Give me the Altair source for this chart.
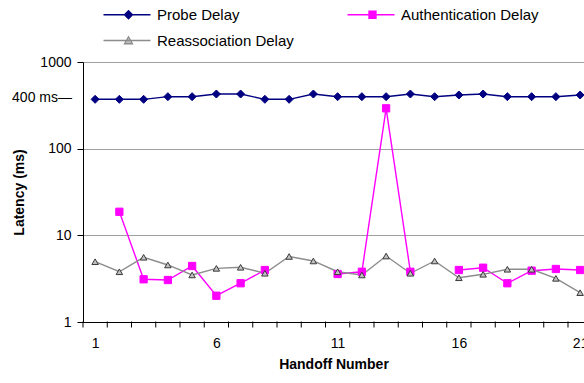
import altair as alt
import pandas as pd

# Handoff latency measurements (ms), one value per handoff; None = not recorded
handoffs = list(range(1, 22))
probe_delay = [371, 371, 371, 398, 398, 427, 427, 371, 371, 427, 398,
               398, 398, 427, 398, 416, 427, 398, 398, 398, 416]
auth_delay = [None, 18.7, 3.11, 3.05, 4.43, 2.01, 2.80, 3.98, None, None, 3.58,
              3.80, 292, 3.80, None, 3.98, 4.23, 2.80, 3.91, 4.09, 3.98]
reassoc_delay = [4.96, 3.80, 5.58, 4.55, 3.49, 4.16, 4.28, 3.65, 5.70, 5.06, 3.80,
                 3.49, 5.77, 3.65, 5.06, 3.24, 3.55, 4.06, 4.06, 3.19, 2.18]
series_names = ["Probe Delay", "Authentication Delay", "Reassociation Delay"]
x_tick_labels = [1, 6, 11, 16, 21]
annotation_value = [400]
annotation_text = ["400 ms\u2014"]

FONT = "Liberation Sans"
line_colors = ["#000080", "#FF00FF", "#8c8c8c"]
marker_fill = ["#000080", "#FF00FF", "#c0c0c0"]
marker_stroke = ["#000080", "#FF00FF", "#3a3a3a"]
legend_stroke = ["#000080", "#FF00FF", "#8c8c8c"]

# Legend swatches: a short line with the series marker in the middle
legend_paths = [
    "M-9,0H0.4M-4,-0.8L-3.2,0L-4,0.8L-4.8,0Z",
    "M-9,0H0.4M-4.7,-0.7H-3.3V0.7H-4.7Z",
    "M-9,0H0.4M-4,-0.75L-3.2,0.65H-4.8Z",
]

# Long table; a new segment starts after every gap so lines break there
rows = []
for name, values in zip(series_names, [probe_delay, auth_delay, reassoc_delay]):
    seg = 0
    for h, v in zip(handoffs, values):
        if v is None:
            seg += 1
            continue
        rows.append({"handoff": h, "series": name, "value": v, "segment": f"{name}-{seg}"})
df = pd.DataFrame(rows)
ann = pd.DataFrame({"value": annotation_value, "label": annotation_text})
# Category boundaries (tick marks sit between handoffs)
bounds = pd.DataFrame({"pos": [h - 0.5 for h in handoffs], "base": 1.0})

x_scale = alt.Scale(domain=[0.5, 21.16], nice=False, zero=False)
y_scale = alt.Scale(type="log", domain=[1, 1000], nice=False)

# Labels are anchored on the left boundary of their category and shifted
# half a category to the right, so they sit under the category centre.
x_axis = alt.Axis(
    values=[v - 0.5 for v in x_tick_labels],
    labelExpr="format(datum.value + 0.5, 'd')",
    labelOffset=12.13,
    labelFlush=False,
    labelOverlap=False,
    labelBound=False,
    labelFont=FONT,
    labelFontSize=14,
    labelColor="#000000",
    labelPadding=14,
    ticks=False,
    grid=False,
    domainColor="#000000",
    title="Handoff Number",
    titleFont=FONT,
    titleFontSize=14,
    titleFontWeight="bold",
    titleColor="#000000",
    titleBaseline="alphabetic",
    titleY=46,
)
x_enc = alt.X("handoff:Q", scale=x_scale, axis=x_axis)
y_enc = alt.Y(
    "value:Q",
    scale=y_scale,
    axis=alt.Axis(
        values=[1, 10, 100, 1000],
        format="d",
        grid=True,
        gridColor="#a0a0a0",
        tickSize=6,
        tickColor="#000000",
        domainColor="#000000",
        labelFont=FONT,
        labelFontSize=14,
        labelColor="#000000",
        labelPadding=6,
        title="Latency (ms)",
        titleFont=FONT,
        titleFontSize=14,
        titleFontWeight="bold",
        titleColor="#000000",
        titleX=-64,
        titleY=130,
        titleAlign="center",
        titleBaseline="middle",
        titleAngle=270,
    ),
)

lines = alt.Chart(df).mark_line(strokeWidth=1.4).encode(
    x=x_enc,
    y=y_enc,
    detail="segment:N",
    color=alt.Color(
        "series:N",
        scale=alt.Scale(domain=series_names, range=line_colors),
        legend=None,
    ),
)

points = alt.Chart(df).mark_point(filled=True, strokeWidth=1, opacity=1).encode(
    x="handoff:Q",
    y="value:Q",
    shape=alt.Shape("series:N", scale=alt.Scale(domain=series_names, range=["diamond", "square", "triangle-up"]), legend=None),
    fill=alt.Fill("series:N", scale=alt.Scale(domain=series_names, range=marker_fill), legend=None),
    stroke=alt.Stroke("series:N", scale=alt.Scale(domain=series_names, range=marker_stroke), legend=None),
    size=alt.Size("series:N", scale=alt.Scale(domain=series_names, range=[64, 42, 70]), legend=None),
)

# Small tick marks below the x axis at each category boundary
x_ticks = alt.Chart(bounds).mark_tick(
    orient="vertical", size=6, thickness=1, color="#000000", yOffset=2.5, opacity=1
).encode(x="pos:Q", y="base:Q")

# Legend-only layer: no rows survive the filter, the scales carry the entries
legend_layer = alt.Chart(df).transform_filter("false").mark_point(
    filled=True, size=100, strokeWidth=1.3, opacity=1
).encode(
    x="handoff:Q",
    y="value:Q",
    shape=alt.Shape("series:N", scale=alt.Scale(domain=series_names, range=legend_paths), sort=series_names,
                    legend=alt.Legend(
                        title=None,
                        orient="none",
                        legendX=58,
                        legendY=-55,
                        columns=2,
                        direction="horizontal",
                        padding=0,
                        symbolSize=100,
                        symbolStrokeWidth=1.3,
                        labelOffset=1,
                        columnPadding=50,
                        rowPadding=10,
                        labelFont=FONT,
                        labelFontSize=15,
                        labelColor="#000000",
                    )),
    fill=alt.Fill("series:N", scale=alt.Scale(domain=series_names, range=marker_fill), sort=series_names),
    stroke=alt.Stroke("series:N", scale=alt.Scale(domain=series_names, range=legend_stroke), sort=series_names),
)

label_400 = alt.Chart(ann).mark_text(
    align="right", baseline="middle", font=FONT, fontSize=14, color="#000000", dy=2
).encode(
    x=alt.value(-11),
    y="value:Q",
    text="label:N",
)

chart = alt.layer(lines, x_ticks, points, label_400, legend_layer).resolve_scale(
    shape="independent", fill="independent", stroke="independent"
).properties(
    width=501,
    height=260,
    autosize=alt.AutoSizeParams(type="none"),
    padding={"left": 83, "top": 62, "right": 0, "bottom": 61},
    background="white",
).configure_view(stroke=None)

chart.save("out.html", embed_options={"renderer": "svg", "actions": False})
